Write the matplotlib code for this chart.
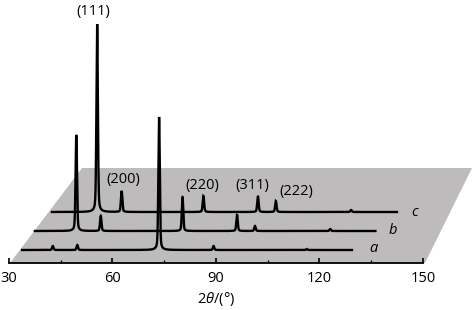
import numpy as np
import matplotlib
matplotlib.use("Agg")
import matplotlib.pyplot as plt
from matplotlib.patches import Polygon
from matplotlib.ticker import MultipleLocator

plt.rcParams['font.family'] = ['Open Sans', 'DejaVu Sans']
plt.rcParams['mathtext.fontset'] = 'custom'
plt.rcParams['mathtext.rm'] = 'Open Sans'
plt.rcParams['mathtext.it'] = 'Open Sans:italic'

# ---- data ----
hkl_labels = ["(111)", "(200)", "(220)", "(311)", "(222)", "(331)"]
peak_2theta = [43.3, 50.4, 74.1, 89.9, 95.1, 116.9]
intensity_a = [4, 5, 133, 4, 0, 1]
intensity_b = [96, 15, 34, 16, 5, 2]
intensity_c = [188, 21, 16, 16, 11, 2]
scan_a = [34.4, 130.0]
scan_b = [31.3, 130.0]
scan_c = [30.2, 130.2]
sample_names = ["a", "b", "c"]
x_ticks = [30, 60, 90, 120, 150]

# ---- layout (perspective offsets) ----
shift_x = [-0.6, 6.2, 12.25]
shift_y = [13, 32, 51]

W, H = 472, 310
fig = plt.figure(figsize=(W / 100, H / 100), dpi=100)
ax = fig.add_axes([9 / W, 47 / H, 414 / W, 263 / H])
ax.set_xlim(30, 150)
ax.set_ylim(0, 263)
ax.patch.set_alpha(0)


def px2data(px, py):
    return 30 + (px - 9) / 3.45, 263 - py


poly_px = [(10, 263), (425, 263), (472, 168), (82, 168)]
poly = Polygon([px2data(*p) for p in poly_px], closed=True,
               facecolor='#bdbbbb', edgecolor='none', clip_on=False, zorder=0)
ax.add_patch(poly)


def profile(x, centers, heights):
    y = np.zeros_like(x)
    for c, h in zip(centers, heights):
        g = np.exp(-0.5 * ((x - c) / 0.2) ** 2)
        l = 1 / (1 + ((x - c) / 0.3) ** 2)
        y += h * (0.75 * g + 0.25 * l)
    return y


scans = [scan_a, scan_b, scan_c]
intens = [intensity_a, intensity_b, intensity_c]
for k in [2, 1, 0]:
    x = np.linspace(scans[k][0], scans[k][1], 6000)
    y = profile(x, peak_2theta, intens[k])
    ax.plot(x + shift_x[k], y + shift_y[k], color='black', lw=1.7,
            solid_joinstyle='miter', clip_on=False, zorder=2)

# sample labels
label_px = [(373, 249), (393, 230), (415, 212)]
for name, (lx, ly) in zip(sample_names, label_px):
    dx, dy = px2data(lx, ly)
    ax.text(dx, dy, name, style='italic', fontsize=10.5, ha='center', va='center',
            clip_on=False)

# hkl labels
hkl_px = [(93, 11), (123, 180), (202, 185), (252, 185), (296, 192)]
for lab, (lx, ly) in zip(hkl_labels, hkl_px):
    dx, dy = px2data(lx, ly)
    ax.text(dx, dy, lab, fontsize=10.5, ha='center', va='center')

for s in ['top', 'right', 'left']:
    ax.spines[s].set_visible(False)
ax.spines['bottom'].set_linewidth(1.3)
ax.set_yticks([])
ax.set_xticks(x_ticks)
ax.xaxis.set_minor_locator(MultipleLocator(15))
ax.tick_params(axis='x', which='major', direction='in', length=3.5, width=1.2,
               labelsize=10.5, pad=6)
ax.tick_params(axis='x', which='minor', direction='in', length=2, width=1.0)
ax.set_xlabel(r'2$\it{\theta}$/(°)', fontsize=10.5, labelpad=3)

fig.savefig("out.png", dpi=100)
